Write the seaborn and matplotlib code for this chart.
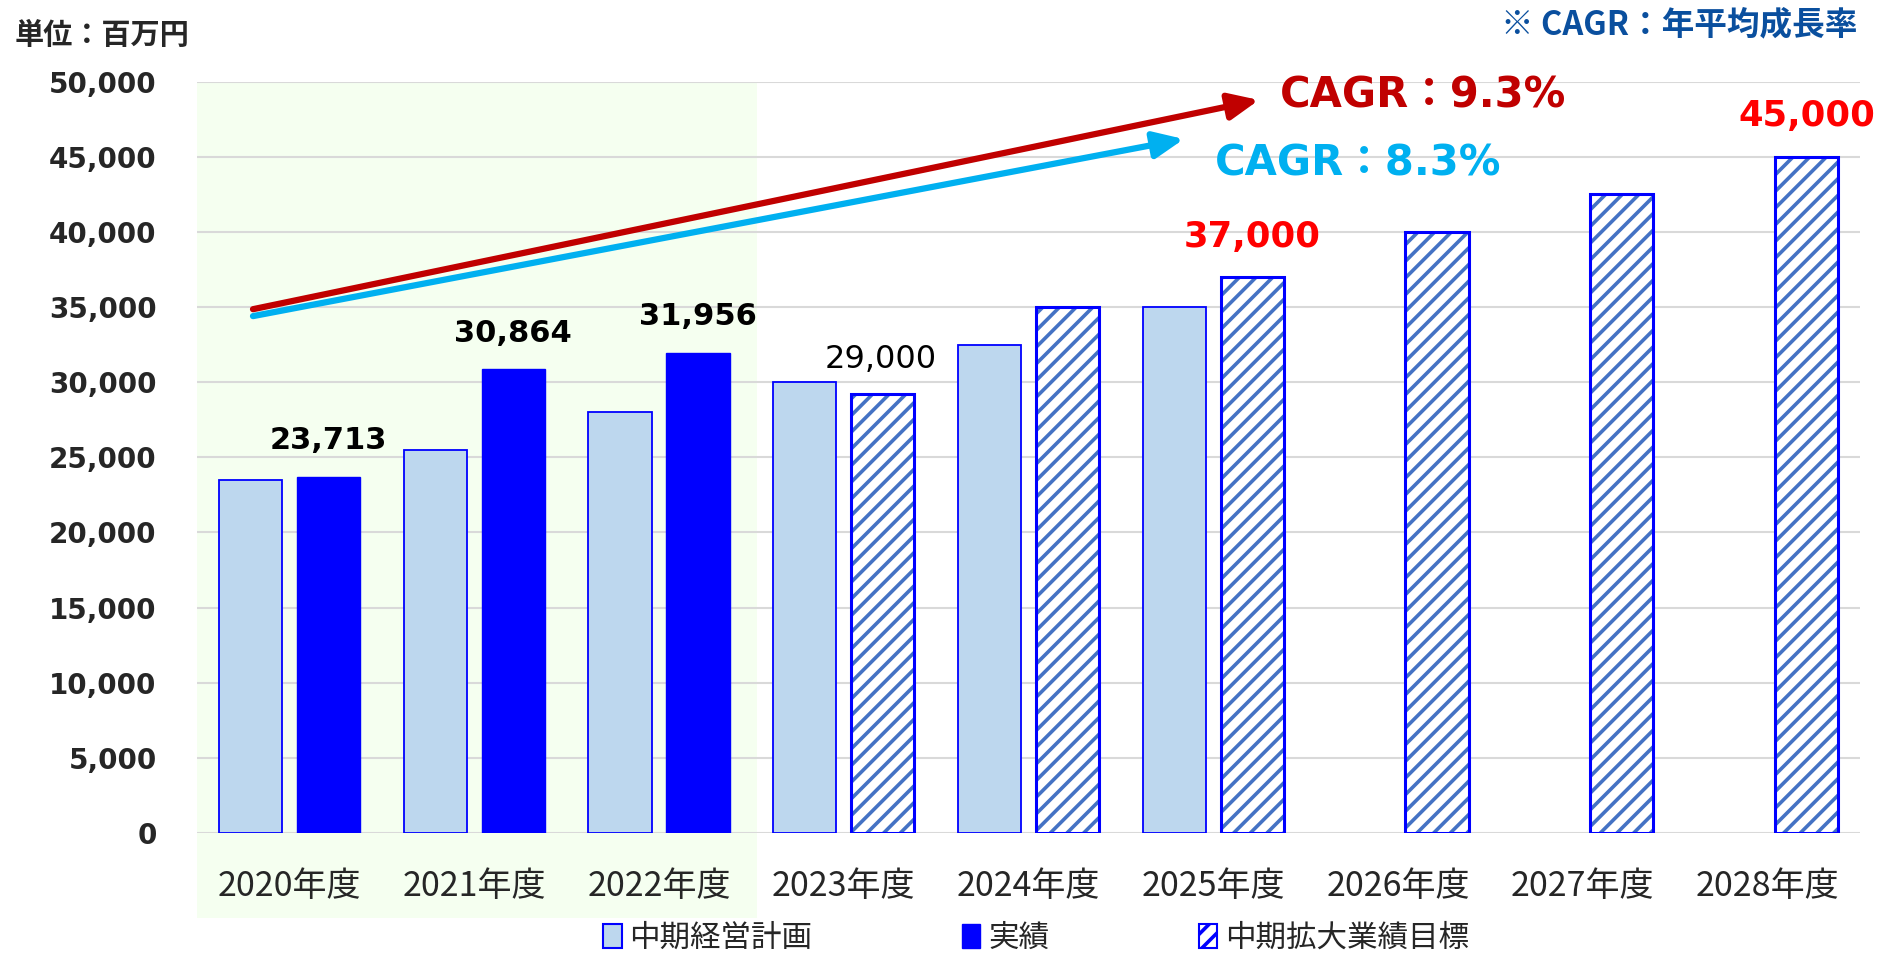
import numpy as np
import pandas as pd
import matplotlib
matplotlib.use("Agg")
import matplotlib.pyplot as plt
import matplotlib.transforms as mtransforms
from matplotlib.patches import Rectangle, Patch
import seaborn as sns

# data (unit: million yen)
years = ['2020年度', '2021年度', '2022年度', '2023年度', '2024年度',
         '2025年度', '2026年度', '2027年度', '2028年度']
plan_years = years[:6]
plan = [23500, 25500, 28000, 30000, 32500, 35000]      # 中期経営計画
actual_years = years[:3]
actual = [23713, 30864, 31956]                          # 実績
target_years = years[3:]
target = [29200, 35000, 37000, 40000, 42500, 45000]    # 中期拡大業績目標

# value labels on the right-hand bar of each year
label_text = ['23,713', '30,864', '31,956', '29,000', '', '37,000', '', '', '45,000']

legend_names = ['中期経営計画', '実績', '中期拡大業績目標']

sns.set_style("white")
plt.rcParams['font.family'] = ['DejaVu Sans', 'Noto Sans CJK JP']
plt.rcParams['hatch.linewidth'] = 2.6

LIGHT = '#BDD7EE'
BLUE = '#0000FF'
HATCH = '#4472C4'

df = pd.DataFrame({
    'year': plan_years + actual_years + target_years,
    'value': plan + actual + target,
    'side': ['plan'] * len(plan) + ['right'] * (len(actual) + len(target)),
})

fig = plt.figure(figsize=(18.79, 9.58), dpi=100)
ax = fig.add_axes([197 / 1879, 1 - 833 / 958, (1860 - 197) / 1879, (833 - 81.5) / 958])

sns.barplot(data=df, x='year', y='value', hue='side', order=years,
            hue_order=['plan', 'right'], palette={'plan': LIGHT, 'right': BLUE},
            width=0.844, gap=0.19, saturation=1, errorbar=None, legend=False, ax=ax)

# restyle bars by position
right_bars = {}
for p in list(ax.patches):
    cx = p.get_x() + p.get_width() / 2
    idx = int(round(cx))
    if cx < idx:
        p.set_facecolor(LIGHT)
        p.set_edgecolor(BLUE)
        p.set_linewidth(1.3)
    else:
        right_bars[idx] = p
        if idx < 3:
            p.set_facecolor(BLUE)
            p.set_edgecolor(BLUE)
            p.set_linewidth(1)
        else:
            p.set_facecolor('white')
            p.set_edgecolor(HATCH)
            p.set_hatch('//')
            p.set_linewidth(0)
            ax.add_patch(Rectangle((p.get_x(), p.get_y()), p.get_width(), p.get_height(),
                                   fill=False, ec=BLUE, lw=2.2, zorder=p.get_zorder() + 0.1))

# value labels
for idx, txt in enumerate(label_text):
    if not txt:
        continue
    p = right_bars[idx]
    cx = p.get_x() + p.get_width() / 2
    h = p.get_height()
    if idx < 3:
        kw = dict(color='black', fontweight='bold', fontsize=22, off=26)
    elif idx == 3:
        kw = dict(color='black', fontweight='normal', fontsize=23, off=25)
        cx -= 0.01
    else:
        kw = dict(color='#FF0000', fontweight='bold', fontsize=25.5, off=29)
    off = kw.pop('off')
    ax.annotate(txt, (cx, h), xytext=(0, off), textcoords='offset points',
                ha='center', va='center', **kw)

# green shading over the results years
trans = mtransforms.blended_transform_factory(ax.transData, ax.transAxes)
ax.add_patch(Rectangle((-0.5, -0.113), 3.03, 1.113, transform=trans, fc='#F5FFF0',
                       ec='none', zorder=0, clip_on=False))

ax.set_axisbelow(True)
ax.set_ylim(0, 50000)
ax.set_xlim(-0.5, 8.5)
ax.set_yticks(np.arange(0, 50001, 5000))
ax.set_yticklabels([f'{v:,}' for v in range(0, 50001, 5000)], fontsize=20, fontweight='bold')
ax.yaxis.grid(True, color='#D9D9D9', lw=1.5)
ax.set_xlabel('')
ax.set_ylabel('')
for lab in ax.get_xticklabels():
    lab.set_fontfamily(['Noto Sans CJK JP'])
    lab.set_fontsize(24.5)
ax.tick_params(axis='y', length=0, pad=29)
ax.tick_params(axis='x', length=0, pad=26)
for s in ax.spines.values():
    s.set_visible(False)
ax.patch.set_alpha(0)

# CAGR arrows
ax.annotate('', xy=(5.247, 48770), xytext=(-0.197, 34850),
            arrowprops=dict(arrowstyle='-|>,head_length=1.8,head_width=0.8',
                            color='#C00000', lw=4.5, shrinkA=0, shrinkB=0))
ax.annotate('', xy=(4.841, 46170), xytext=(-0.197, 34390),
            arrowprops=dict(arrowstyle='-|>,head_length=1.8,head_width=0.8',
                            color='#00B0F0', lw=4.5, shrinkA=0, shrinkB=0))
ax.text(5.36, 49070, 'CAGR：9.3%', color='#C00000', fontsize=30, fontweight='bold',
        ha='left', va='center', family=['DejaVu Sans', 'Noto Sans CJK JP'])
ax.text(5.009, 44540, 'CAGR：8.3%', color='#00B0F0', fontsize=30, fontweight='bold',
        ha='left', va='center', family=['DejaVu Sans', 'Noto Sans CJK JP'])

fig.text(15 / 1879, 1 - 35 / 958, '単位：百万円', ha='left', va='center', fontsize=21,
         fontweight='bold', family=['Noto Sans CJK JP'])
fig.text(1857 / 1879, 1 - 25 / 958, '※ CAGR：年平均成長率', ha='right', va='center',
         fontsize=23.5, fontweight='bold', color='#0A4F9E', family=['Noto Sans CJK JP'])

handles = [Patch(fc=LIGHT, ec=BLUE, lw=1.5),
           Patch(fc=BLUE, ec=BLUE, lw=1),
           Patch(fc='white', ec=BLUE, hatch='//', lw=1.5)]
fig.legend(handles, legend_names, loc='center', bbox_to_anchor=(1036 / 1879, 1 - 938 / 958),
           ncol=3, frameon=False, columnspacing=4.9, handlelength=0.6, handleheight=0.8,
           handletextpad=0.25, borderpad=0.2, prop={'family': ['Noto Sans CJK JP'], 'size': 22})

fig.savefig('out.png', dpi=100)
